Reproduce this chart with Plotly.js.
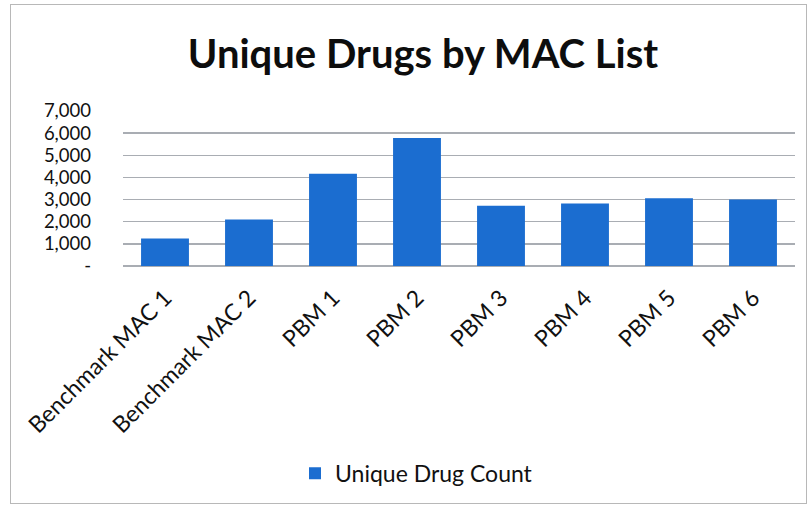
<!DOCTYPE html>
<html>
<head>
<meta charset="utf-8">
<script src="https://cdn.plot.ly/plotly-3.0.1.min.js"></script>
<style>
  html, body { margin: 0; padding: 0; background: #fff; }
  #frame { position: absolute; left: 10px; top: 4px; width: 797px; height: 500px;
           border: 1.5px solid #b8b8b8; box-sizing: border-box; pointer-events: none; }
  #chart { width: 811px; height: 509px; }
</style>
</head>
<body>
<div id="chart"></div>
<div id="frame"></div>
<script>
// MAC lists and the number of unique drugs in each
const categories = ["Benchmark MAC 1", "Benchmark MAC 2", "PBM 1", "PBM 2", "PBM 3", "PBM 4", "PBM 5", "PBM 6"];
const uniqueDrugCount = [1240, 2100, 4170, 5780, 2720, 2820, 3060, 3000];
const yTickValues = [0, 1000, 2000, 3000, 4000, 5000, 6000, 7000];
const yTickLabels = ["-", "1,000", "2,000", "3,000", "4,000", "5,000", "6,000", "7,000"];

const FONT = "Lato, Open Sans, Liberation Sans, sans-serif";

const trace = {
  type: "bar",
  name: "Unique Drug Count",
  x: categories,
  y: uniqueDrugCount,
  marker: { color: "#1b6dd0" },
  hoverinfo: "x+y"
};

const layout = {
  width: 811,
  height: 509,
  paper_bgcolor: "#ffffff",
  plot_bgcolor: "#ffffff",
  margin: { l: 123, r: 16, t: 111, b: 243, pad: 0 },
  font: { family: FONT, color: "#111" },
  title: {
    text: "<b>Unique Drugs by MAC List</b>",
    font: { family: FONT, size: 40, color: "#0d0d0d" },
    x: 423 / 811, xref: "container", xanchor: "center",
    y: 1 - 54 / 509, yref: "container", yanchor: "middle"
  },
  bargap: 0.43,
  xaxis: {
    type: "category",
    tickangle: -45,
    tickfont: { family: FONT, size: 23, color: "#111" },
    showgrid: false,
    showline: false,
    ticks: "",
    ticklabelstandoff: 13
  },
  yaxis: {
    range: [0, 7000],
    tickvals: yTickValues,
    ticktext: yTickLabels,
    tickfont: { family: FONT, size: 18.5, color: "#111" },
    showgrid: true,
    gridcolor: "#a9adb3",
    gridwidth: 1.3,
    zeroline: true,
    zerolinecolor: "#a9adb3",
    zerolinewidth: 1.3,
    showline: false,
    ticks: "",
    ticklabelstandoff: 31
  },
  showlegend: true,
  legend: {
    orientation: "h",
    x: (295 - 123) / 672, xanchor: "left",
    y: (265.7 - 473) / 155, yanchor: "middle",
    font: { family: FONT, size: 23, color: "#111" },
    itemwidth: 30,
    bgcolor: "rgba(0,0,0,0)"
  }
};

Plotly.newPlot("chart", [trace], layout, { displayModeBar: false, staticPlot: true });
</script>
</body>
</html>
